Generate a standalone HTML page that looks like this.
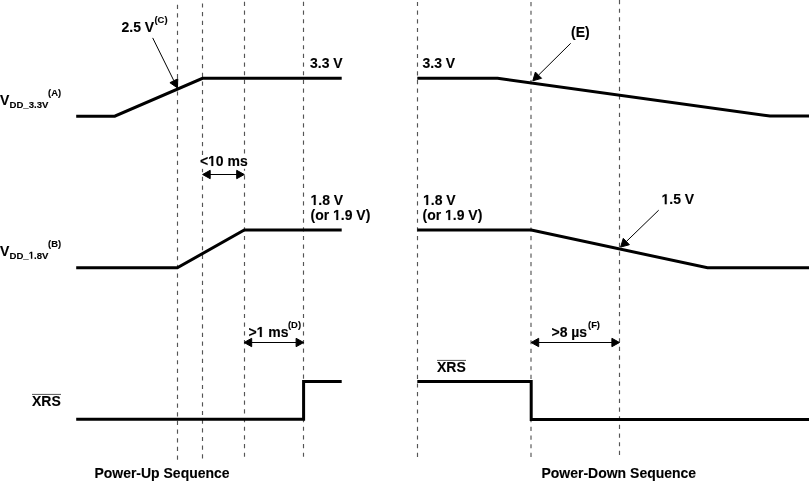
<!DOCTYPE html>
<html><head><meta charset="utf-8">
<style>
html,body{margin:0;padding:0;background:#fff;width:809px;height:481px;overflow:hidden}
svg{display:block;will-change:transform}
text{font-family:"Liberation Sans",sans-serif;font-weight:bold;fill:#000;stroke:#000;stroke-width:0.12px}
.one{fill-opacity:0;stroke:none}
</style></head><body>
<svg width="809" height="481" viewBox="0 0 809 481">
<g stroke="#555" stroke-width="1.15" fill="none">
<path d="M177.5,4.70v4.20M177.5,13.37v4.20M177.5,22.04v4.20M177.5,30.71v4.20M177.5,39.38v4.20M177.5,48.05v4.20M177.5,56.72v4.20M177.5,65.39v4.20M177.5,74.06v4.20M177.5,82.73v4.20M177.5,91.40v4.20M177.5,100.07v4.20M177.5,108.74v4.20M177.5,117.41v4.20M177.5,126.08v4.20M177.5,134.75v4.20M177.5,143.42v4.20M177.5,152.09v4.20M177.5,160.76v4.20M177.5,169.43v4.20M177.5,178.10v4.20M177.5,186.77v4.20M177.5,195.44v4.20M177.5,204.11v4.20M177.5,212.78v4.20M177.5,221.45v4.20M177.5,230.12v4.20M177.5,238.79v4.20M177.5,247.46v4.20M177.5,256.13v4.20M177.5,264.80v4.20M177.5,273.47v4.20M177.5,282.14v4.20M177.5,290.81v4.20M177.5,299.48v4.20M177.5,308.15v4.20M177.5,316.82v4.20M177.5,325.49v4.20M177.5,334.16v4.20M177.5,342.83v4.20M177.5,351.50v4.20M177.5,360.17v4.20M177.5,368.84v4.20M177.5,377.51v4.20M177.5,386.18v4.20M177.5,394.85v4.20M177.5,403.52v4.20M177.5,412.19v4.20M177.5,420.86v4.20M177.5,429.53v4.20M177.5,438.20v4.20M177.5,446.87v4.20M177.5,455.54v4.20"/>
<path d="M202.5,3.40v4.20M202.5,12.07v4.20M202.5,20.74v4.20M202.5,29.41v4.20M202.5,38.08v4.20M202.5,46.75v4.20M202.5,55.42v4.20M202.5,64.09v4.20M202.5,72.76v4.20M202.5,81.43v4.20M202.5,90.10v4.20M202.5,98.77v4.20M202.5,107.44v4.20M202.5,116.11v4.20M202.5,124.78v4.20M202.5,133.45v4.20M202.5,142.12v4.20M202.5,150.79v4.20M202.5,159.46v4.20M202.5,168.13v4.20M202.5,176.80v4.20M202.5,185.47v4.20M202.5,194.14v4.20M202.5,202.81v4.20M202.5,211.48v4.20M202.5,220.15v4.20M202.5,228.82v4.20M202.5,237.49v4.20M202.5,246.16v4.20M202.5,254.83v4.20M202.5,263.50v4.20M202.5,272.17v4.20M202.5,280.84v4.20M202.5,289.51v4.20M202.5,298.18v4.20M202.5,306.85v4.20M202.5,315.52v4.20M202.5,324.19v4.20M202.5,332.86v4.20M202.5,341.53v4.20M202.5,350.20v4.20M202.5,358.87v4.20M202.5,367.54v4.20M202.5,376.21v4.20M202.5,384.88v4.20M202.5,393.55v4.20M202.5,402.22v4.20M202.5,410.89v4.20M202.5,419.56v4.20M202.5,428.23v4.20M202.5,436.90v4.20M202.5,445.57v4.20M202.5,454.24v4.20"/>
<path d="M244.5,1.80v4.20M244.5,10.47v4.20M244.5,19.14v4.20M244.5,27.81v4.20M244.5,36.48v4.20M244.5,45.15v4.20M244.5,53.82v4.20M244.5,62.49v4.20M244.5,71.16v4.20M244.5,79.83v4.20M244.5,88.50v4.20M244.5,97.17v4.20M244.5,105.84v4.20M244.5,114.51v4.20M244.5,123.18v4.20M244.5,131.85v4.20M244.5,140.52v4.20M244.5,149.19v4.20M244.5,157.86v4.20M244.5,166.53v4.20M244.5,175.20v4.20M244.5,183.87v4.20M244.5,192.54v4.20M244.5,201.21v4.20M244.5,209.88v4.20M244.5,218.55v4.20M244.5,227.22v4.20M244.5,235.89v4.20M244.5,244.56v4.20M244.5,253.23v4.20M244.5,261.90v4.20M244.5,270.57v4.20M244.5,279.24v4.20M244.5,287.91v4.20M244.5,296.58v4.20M244.5,305.25v4.20M244.5,313.92v4.20M244.5,322.59v4.20M244.5,331.26v4.20M244.5,339.93v4.20M244.5,348.60v4.20M244.5,357.27v4.20M244.5,365.94v4.20M244.5,374.61v4.20M244.5,383.28v4.20M244.5,391.95v4.20M244.5,400.62v4.20M244.5,409.29v4.20M244.5,417.96v4.20M244.5,426.63v4.20M244.5,435.30v4.20M244.5,443.97v4.20M244.5,452.64v4.20"/>
<path d="M303.5,1.80v4.20M303.5,10.47v4.20M303.5,19.14v4.20M303.5,27.81v4.20M303.5,36.48v4.20M303.5,45.15v4.20M303.5,53.82v4.20M303.5,62.49v4.20M303.5,71.16v4.20M303.5,79.83v4.20M303.5,88.50v4.20M303.5,97.17v4.20M303.5,105.84v4.20M303.5,114.51v4.20M303.5,123.18v4.20M303.5,131.85v4.20M303.5,140.52v4.20M303.5,149.19v4.20M303.5,157.86v4.20M303.5,166.53v4.20M303.5,175.20v4.20M303.5,183.87v4.20M303.5,192.54v4.20M303.5,201.21v4.20M303.5,209.88v4.20M303.5,218.55v4.20M303.5,227.22v4.20M303.5,235.89v4.20M303.5,244.56v4.20M303.5,253.23v4.20M303.5,261.90v4.20M303.5,270.57v4.20M303.5,279.24v4.20M303.5,287.91v4.20M303.5,296.58v4.20M303.5,305.25v4.20M303.5,313.92v4.20M303.5,322.59v4.20M303.5,331.26v4.20M303.5,339.93v4.20M303.5,348.60v4.20M303.5,357.27v4.20M303.5,365.94v4.20M303.5,374.61v4.20M303.5,383.28v4.20M303.5,391.95v4.20M303.5,400.62v4.20M303.5,409.29v4.20M303.5,417.96v4.20M303.5,426.63v4.20M303.5,435.30v4.20M303.5,443.97v4.20M303.5,452.64v4.20"/>
<path d="M417.5,1.90v4.20M417.5,10.57v4.20M417.5,19.24v4.20M417.5,27.91v4.20M417.5,36.58v4.20M417.5,45.25v4.20M417.5,53.92v4.20M417.5,62.59v4.20M417.5,71.26v4.20M417.5,79.93v4.20M417.5,88.60v4.20M417.5,97.27v4.20M417.5,105.94v4.20M417.5,114.61v4.20M417.5,123.28v4.20M417.5,131.95v4.20M417.5,140.62v4.20M417.5,149.29v4.20M417.5,157.96v4.20M417.5,166.63v4.20M417.5,175.30v4.20M417.5,183.97v4.20M417.5,192.64v4.20M417.5,201.31v4.20M417.5,209.98v4.20M417.5,218.65v4.20M417.5,227.32v4.20M417.5,235.99v4.20M417.5,244.66v4.20M417.5,253.33v4.20M417.5,262.00v4.20M417.5,270.67v4.20M417.5,279.34v4.20M417.5,288.01v4.20M417.5,296.68v4.20M417.5,305.35v4.20M417.5,314.02v4.20M417.5,322.69v4.20M417.5,331.36v4.20M417.5,340.03v4.20M417.5,348.70v4.20M417.5,357.37v4.20M417.5,366.04v4.20M417.5,374.71v4.20M417.5,383.38v4.20M417.5,392.05v4.20M417.5,400.72v4.20M417.5,409.39v4.20M417.5,418.06v4.20M417.5,426.73v4.20M417.5,435.40v4.20M417.5,444.07v4.20M417.5,452.74v4.20"/>
<path d="M531.0,2.00v4.20M531.0,10.67v4.20M531.0,19.34v4.20M531.0,28.01v4.20M531.0,36.68v4.20M531.0,45.35v4.20M531.0,54.02v4.20M531.0,62.69v4.20M531.0,71.36v4.20M531.0,80.03v4.20M531.0,88.70v4.20M531.0,97.37v4.20M531.0,106.04v4.20M531.0,114.71v4.20M531.0,123.38v4.20M531.0,132.05v4.20M531.0,140.72v4.20M531.0,149.39v4.20M531.0,158.06v4.20M531.0,166.73v4.20M531.0,175.40v4.20M531.0,184.07v4.20M531.0,192.74v4.20M531.0,201.41v4.20M531.0,210.08v4.20M531.0,218.75v4.20M531.0,227.42v4.20M531.0,236.09v4.20M531.0,244.76v4.20M531.0,253.43v4.20M531.0,262.10v4.20M531.0,270.77v4.20M531.0,279.44v4.20M531.0,288.11v4.20M531.0,296.78v4.20M531.0,305.45v4.20M531.0,314.12v4.20M531.0,322.79v4.20M531.0,331.46v4.20M531.0,340.13v4.20M531.0,348.80v4.20M531.0,357.47v4.20M531.0,366.14v4.20M531.0,374.81v4.20M531.0,383.48v4.20M531.0,392.15v4.20M531.0,400.82v4.20M531.0,409.49v4.20M531.0,418.16v4.20M531.0,426.83v4.20M531.0,435.50v4.20M531.0,444.17v4.20M531.0,452.84v4.16"/>
<path d="M619.5,0.00v4.20M619.5,8.67v4.20M619.5,17.34v4.20M619.5,26.01v4.20M619.5,34.68v4.20M619.5,43.35v4.20M619.5,52.02v4.20M619.5,60.69v4.20M619.5,69.36v4.20M619.5,78.03v4.20M619.5,86.70v4.20M619.5,95.37v4.20M619.5,104.04v4.20M619.5,112.71v4.20M619.5,121.38v4.20M619.5,130.05v4.20M619.5,138.72v4.20M619.5,147.39v4.20M619.5,156.06v4.20M619.5,164.73v4.20M619.5,173.40v4.20M619.5,182.07v4.20M619.5,190.74v4.20M619.5,199.41v4.20M619.5,208.08v4.20M619.5,216.75v4.20M619.5,225.42v4.20M619.5,234.09v4.20M619.5,242.76v4.20M619.5,251.43v4.20M619.5,260.10v4.20M619.5,268.77v4.20M619.5,277.44v4.20M619.5,286.11v4.20M619.5,294.78v4.20M619.5,303.45v4.20M619.5,312.12v4.20M619.5,320.79v4.20M619.5,329.46v4.20M619.5,338.13v4.20M619.5,346.80v4.20M619.5,355.47v4.20M619.5,364.14v4.20M619.5,372.81v4.20M619.5,381.48v4.20M619.5,390.15v4.20M619.5,398.82v4.20M619.5,407.49v4.20M619.5,416.16v4.20M619.5,424.83v4.20M619.5,433.50v4.20M619.5,442.17v4.20M619.5,450.84v4.16"/>
</g>
<rect x="199" y="155" width="50" height="13.8" fill="#fff"/>
<g stroke="#000" stroke-width="3" fill="none" stroke-linejoin="miter">
<path d="M76.2,116.2 H114.7 L202.5,78.3 H341.7"/>
<path d="M76.2,267.8 H177.3 L244.3,230 H341.7"/>
<path d="M76.2,419.35 H303.6 V381.5 H341.7"/>
<path d="M417.3,78.3 H497.6 L770,116 H809"/>
<path d="M417.3,230 H531.3 L707.5,267.8 H809"/>
<path d="M417.3,381.45 H531.2 V419.4 H809"/>
</g>
<g stroke="#000" fill="#000">
<line x1="152.7" y1="37.9" x2="173.86" y2="80.73" stroke-width="1.0"/><path d="M177.40,87.90 L169.91,82.68 L177.80,78.78 Z"/>
<line x1="570.7" y1="43.3" x2="538.49" y2="75.17" stroke-width="1.0"/><path d="M532.80,80.80 L535.39,72.05 L541.58,78.30 Z"/>
<line x1="658.7" y1="210.2" x2="626.35" y2="241.53" stroke-width="1.0"/><path d="M620.60,247.10 L623.29,238.37 L629.41,244.70 Z"/>
<line x1="209.7" y1="174.5" x2="237.20000000000002" y2="174.5" stroke-width="1.0"/><path d="M202.60,174.50 L210.20,170.30 L210.20,178.70 Z"/><path d="M244.30,174.50 L236.70,178.70 L236.70,170.30 Z"/>
<line x1="251.2" y1="342.5" x2="296.59999999999997" y2="342.5" stroke-width="1.0"/><path d="M244.10,342.50 L251.70,338.30 L251.70,346.70 Z"/><path d="M303.70,342.50 L296.10,346.70 L296.10,338.30 Z"/>
<line x1="538.2" y1="342.5" x2="612.4" y2="342.5" stroke-width="1.0"/><path d="M531.10,342.50 L538.70,338.30 L538.70,346.70 Z"/><path d="M619.50,342.50 L611.90,346.70 L611.90,338.30 Z"/>
</g>
<g>
<text x="121.5" y="32" font-size="14" transform="matrix(1,0,0,1.04,0,-1.280)">2.5 V</text>
<text x="154.5" y="23" font-size="9.4" transform="matrix(1,0,0,1.04,0,-0.920)">(C)</text>
<text x="0" y="105" font-size="14" transform="matrix(1,0,0,1.04,0,-4.200)">V</text>
<text x="9.5" y="108" font-size="9.6" transform="matrix(1,0,0,1.04,0,-4.320)">DD_3.3V</text>
<text x="48" y="96" font-size="9.4" transform="matrix(1,0,0,1.04,0,-3.840)">(A)</text>
<text x="310" y="68" font-size="14" transform="matrix(1,0,0,1.04,0,-2.720)">3.3 V</text>
<text x="199.9" y="166" font-size="14" transform="matrix(1,0,0,1.04,0,-6.640)">&lt;<tspan class="one">1</tspan>0 ms</text>
<text x="310.5" y="205" font-size="14" transform="matrix(1,0,0,1.04,0,-8.200)"><tspan class="one">1</tspan>.8 V</text>
<text x="310.5" y="220" font-size="14" transform="matrix(1,0,0,1.04,0,-8.800)">(or <tspan class="one">1</tspan>.9 V)</text>
<text x="0" y="256" font-size="14" transform="matrix(1,0,0,1.04,0,-10.240)">V</text>
<text x="9.5" y="258.7" font-size="9.6" transform="matrix(1,0,0,1.04,0,-10.348)">DD_<tspan class="one">1</tspan>.8V</text>
<text x="48" y="247" font-size="9.4" transform="matrix(1,0,0,1.04,0,-9.880)">(B)</text>
<text x="248.4" y="337" font-size="14" transform="matrix(1,0,0,1.04,0,-13.480)">&gt;<tspan class="one">1</tspan> ms</text>
<text x="288" y="328" font-size="9.4" transform="matrix(1,0,0,1.04,0,-13.120)">(D)</text>
<text x="32" y="405.6" font-size="14" transform="matrix(1,0,0,1.04,0,-16.224)">XRS</text>
<text x="94.4" y="478" font-size="14" transform="matrix(1,0,0,1.04,0,-19.120)">Power-Up Sequence</text>
<text x="422.5" y="68" font-size="14" transform="matrix(1,0,0,1.04,0,-2.720)">3.3 V</text>
<text x="571" y="37" font-size="14" transform="matrix(1,0,0,1.04,0,-1.480)">(E)</text>
<text x="423" y="205" font-size="14" transform="matrix(1,0,0,1.04,0,-8.200)"><tspan class="one">1</tspan>.8 V</text>
<text x="422.5" y="220" font-size="14" transform="matrix(1,0,0,1.04,0,-8.800)">(or <tspan class="one">1</tspan>.9 V)</text>
<text x="661.5" y="204.2" font-size="14" transform="matrix(1,0,0,1.04,0,-8.168)"><tspan class="one">1</tspan>.5 V</text>
<text x="551.5" y="337.3" font-size="14" transform="matrix(1,0,0,1.04,0,-13.492)">&gt;8 µs</text>
<text x="588" y="328.5" font-size="9.4" transform="matrix(1,0,0,1.04,0,-13.140)">(F)</text>
<text x="437" y="372" font-size="14" transform="matrix(1,0,0,1.04,0,-14.880)">XRS</text>
<text x="541.5" y="478" font-size="14" transform="matrix(1,0,0,1.04,0,-19.120)">Power-Down Sequence</text>
</g>
<g fill="#000" stroke="#000" stroke-width="18"><path transform="matrix(0.006836,0,0,-0.007109,208.079,166.000)" d="M478,0 L478,1170 L140,959 L140,1180 L493,1409 L759,1409 L759,0 Z"/><path transform="matrix(0.006836,0,0,-0.007109,310.500,205.000)" d="M478,0 L478,1170 L140,959 L140,1180 L493,1409 L759,1409 L759,0 Z"/><path transform="matrix(0.006836,0,0,-0.007109,333.029,220.000)" d="M478,0 L478,1170 L140,959 L140,1180 L493,1409 L759,1409 L759,0 Z"/><path transform="matrix(0.004687,0,0,-0.004875,28.691,258.700)" d="M478,0 L478,1170 L140,959 L140,1180 L493,1409 L759,1409 L759,0 Z"/><path transform="matrix(0.006836,0,0,-0.007109,256.579,337.000)" d="M478,0 L478,1170 L140,959 L140,1180 L493,1409 L759,1409 L759,0 Z"/><path transform="matrix(0.006836,0,0,-0.007109,423.000,205.000)" d="M478,0 L478,1170 L140,959 L140,1180 L493,1409 L759,1409 L759,0 Z"/><path transform="matrix(0.006836,0,0,-0.007109,445.029,220.000)" d="M478,0 L478,1170 L140,959 L140,1180 L493,1409 L759,1409 L759,0 Z"/><path transform="matrix(0.006836,0,0,-0.007109,661.500,204.200)" d="M478,0 L478,1170 L140,959 L140,1180 L493,1409 L759,1409 L759,0 Z"/></g>
<g stroke="#555" stroke-width="1"><line x1="32" y1="394.4" x2="61" y2="394.4"/><line x1="437" y1="360.4" x2="466" y2="360.4"/></g>
</svg>
</body></html>
